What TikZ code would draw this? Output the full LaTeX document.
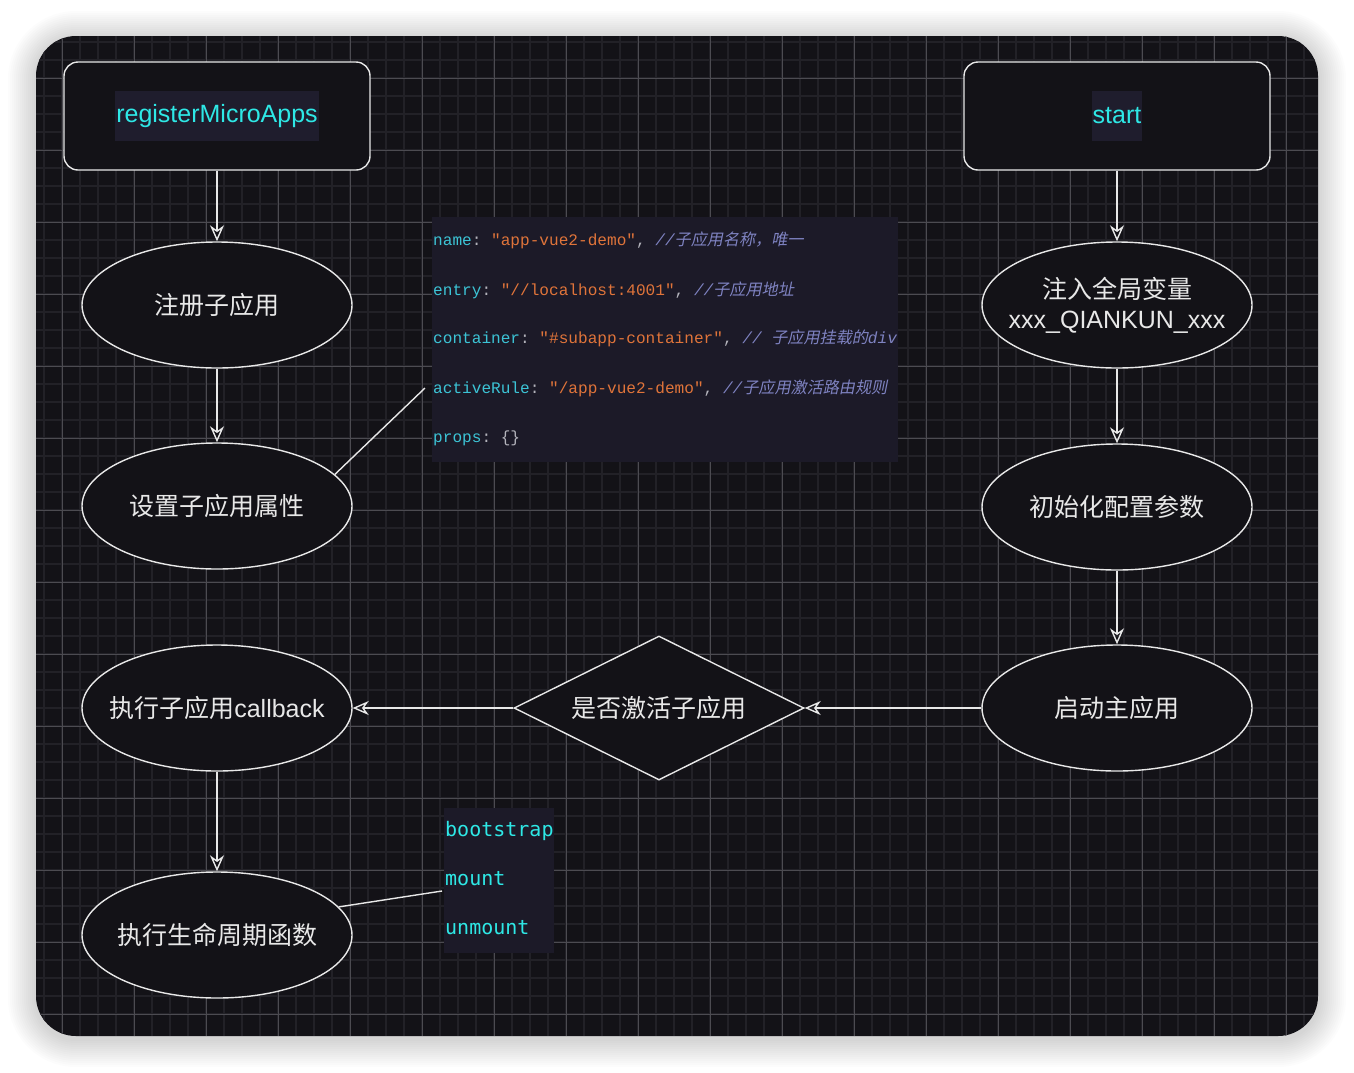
\documentclass[tikz,border=0pt]{standalone}
\usepackage{fontspec}
\setmainfont{Liberation Sans}
\setmonofont{Liberation Mono}
\newfontfamily\cjk{Noto Sans CJK SC}
\newfontfamily\cjkit{Noto Sans CJK SC}[FakeSlant=0.2]
\newfontfamily\hookfont{DejaVu Sans Mono}
\usepackage{xcolor}
\usetikzlibrary{arrows.meta,shapes.geometric,positioning}
\definecolor{canvasDark}{HTML}{131217}
\definecolor{gridMinor}{HTML}{222127}
\definecolor{gridMajor}{HTML}{4C4B51}
\definecolor{lineLight}{HTML}{E8E8E8}
\definecolor{codeBg}{HTML}{1C1A28}
\definecolor{hiliteBg}{HTML}{1F1D2D}
\definecolor{apiCyan}{HTML}{2EE8E6}
\definecolor{codeKey}{HTML}{3CC4D6}
\definecolor{codeStr}{HTML}{E0743A}
\definecolor{codeCom}{HTML}{7F83C2}
\definecolor{codePunct}{HTML}{B4B4BC}
\newcommand{\ckey}[1]{\textcolor{codeKey}{#1}}
\newcommand{\cstr}[1]{\textcolor{codeStr}{#1}}
\newcommand{\ccom}[1]{\textcolor{codeCom}{\itshape #1}}
\tikzset{
  apibox/.style={
    rectangle, rounded corners=14pt, draw=lineLight, line width=1.4pt,
    fill=canvasDark, minimum width=306pt, minimum height=108pt
  },
  apilabel/.style={
    fill=hiliteBg, text=apiCyan, inner xsep=1pt, minimum height=50pt,
    font=\fontsize{25}{28}\selectfont
  },
  flownode/.style={
    ellipse, draw=lineLight, line width=1.4pt, fill=canvasDark, text=lineLight,
    minimum width=270pt, minimum height=126pt, inner xsep=-40pt, inner ysep=-20pt,
    align=center, font=\fontsize{25}{30}\selectfont
  },
  judgenode/.style={
    diamond, draw=lineLight, line width=1.4pt, fill=canvasDark, text=lineLight,
    minimum width=290pt, minimum height=144pt, inner xsep=-40pt, inner ysep=-10pt,
    font=\fontsize{25}{30}\selectfont
  },
  codeline/.style={anchor=west, inner sep=0pt, text=codePunct,
    font=\ttfamily\fontsize{16.1}{19}\selectfont},
  hookline/.style={anchor=west, inner sep=0pt, text=apiCyan,
    font=\hookfont\fontsize{20}{24}\selectfont},
  flowArrow/.style={-{Stealth[open,length=16pt,width=14pt,inset=5pt]},
    line width=1.4pt, color=lineLight},
  linkLine/.style={line width=1.4pt, color=lineLight}
}

\begin{document}
\begin{tikzpicture}[x=1pt, y=-1pt]
  % page and canvas
  \fill[white] (0,0) rectangle (1354,1072);
  \useasboundingbox (0,0) rectangle (1354,1072);
  \foreach \r in {1,...,14}
    \fill[black, opacity=0.012, rounded corners=40+\r*2]
      (36-\r*2,36-\r*2+3) rectangle (1318+\r*2,1036+\r*2+3);
  \fill[canvasDark, rounded corners=40] (36,36) rectangle (1318,1036);
  \begin{scope}
    \clip[rounded corners=40] (36,36) rectangle (1318,1036);
    \foreach \x in {44,62,...,1310} \draw[gridMinor, line width=1.2pt] (\x,36) -- (\x,1036);
    \foreach \y in {42,60,...,1030} \draw[gridMinor, line width=1.2pt] (36,\y) -- (1318,\y);
    \foreach \x in {62,134,...,1310} \draw[gridMajor, line width=1pt] (\x,36) -- (\x,1036);
    \foreach \y in {78,150,...,1030} \draw[gridMajor, line width=1pt] (36,\y) -- (1318,\y);
  \end{scope}

  % left column
  \node[apibox] (reg) at (217,116) {};
  \node[apilabel] (regtxt) at (reg) {registerMicroApps};
  \node[flownode] (regapp) at (217,305) {{\cjk 注册子应用}};
  \node[flownode] (setprop) at (217,506) {{\cjk 设置子应用属性}};
  \node[flownode] (callback) at (217,708) {{\cjk 执行子应用}callback};
  \node[flownode] (life) at (217,935) {{\cjk 执行生命周期函数}};

  % right column
  \node[apibox] (start) at (1117,116) {};
  \node[apilabel] (starttxt) at (start) {start};
  \node[flownode] (inject) at (1117,305) {{\cjk 注入全局变量}\\xxx\_QIANKUN\_xxx};
  \node[flownode] (initcfg) at (1117,507) {{\cjk 初始化配置参数}};
  \node[flownode] (launch) at (1117,708) {{\cjk 启动主应用}};
  \node[judgenode] (judge) at (659,708) {{\cjk 是否激活子应用}};

  % app config
  \node[fill=codeBg, minimum width=466pt, minimum height=245pt, inner sep=0pt] (codebox) at (665,339.5) {};
  \node[codeline] (c1) at (433,240) {\ckey{name}: \cstr{"app-vue2-demo"}, \ccom{//{\cjkit 子应用名称，唯一}}};
  \node[codeline] (c2) at (433,290) {\ckey{entry}: \cstr{"//localhost:4001"}, \ccom{//{\cjkit 子应用地址}}};
  \node[codeline] (c3) at (433,338) {\ckey{container}: \cstr{"\#subapp-container"}, \ccom{// {\cjkit 子应用挂载的}div}};
  \node[codeline] (c4) at (433,388) {\ckey{activeRule}: \cstr{"/app-vue2-demo"}, \ccom{//{\cjkit 子应用激活路由规则}}};
  \node[codeline] (c5) at (433,438) {\ckey{props}: \{\}};

  % lifecycle hooks
  \node[fill=codeBg, minimum width=110pt, minimum height=145pt, inner sep=0pt] (hookbox) at (499,880.5) {};
  \node[hookline] (h1) at (445,831) {bootstrap};
  \node[hookline] (h2) at (445,879) {mount};
  \node[hookline] (h3) at (445,928) {unmount};

  \coordinate (cfgend) at (425,388);
  \coordinate (hookend) at (442,891);

  % arrows
  \draw[flowArrow] (reg.south) -- (regapp.north);
  \draw[flowArrow] (regapp.south) -- (setprop.north);
  \draw[flowArrow] (callback.south) -- (life.north);
  \draw[flowArrow] (start.south) -- (inject.north);
  \draw[flowArrow] (inject.south) -- (initcfg.north);
  \draw[flowArrow] (initcfg.south) -- (launch.north);
  \draw[flowArrow] (launch.west) -- (judge.east);
  \draw[flowArrow] (judge.west) -- (callback.east);
  \draw[linkLine] (setprop.15) -- (cfgend);
  \draw[linkLine] (life.13) -- (hookend);
\end{tikzpicture}
\end{document}
